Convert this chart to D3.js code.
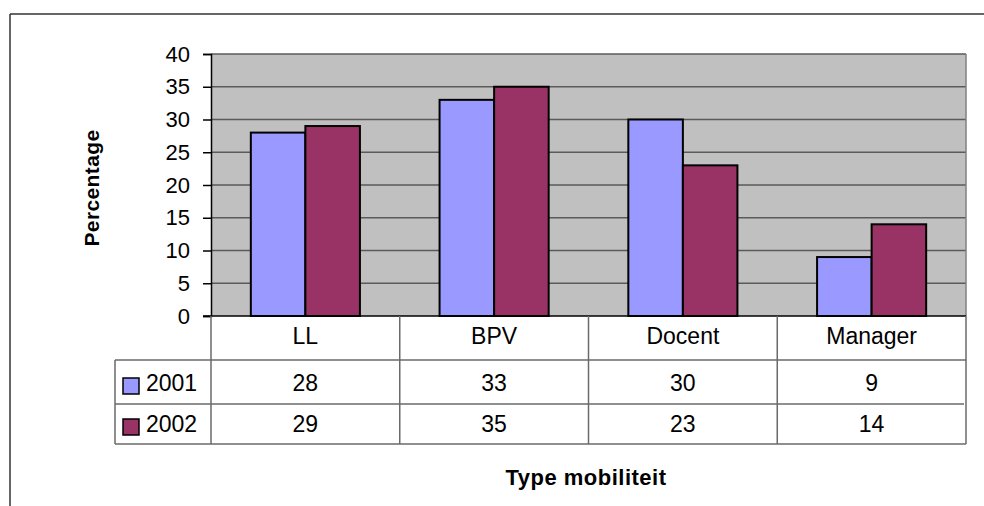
<!DOCTYPE html>
<html><head><meta charset="utf-8">
<script src="https://cdn.jsdelivr.net/npm/d3@7"></script>
<style>body{margin:0;background:#fff}svg{display:block}text{font-family:"Liberation Sans",Arial,sans-serif}</style>
</head><body>
<script>
const categories = ["LL", "BPV", "Docent", "Manager"];
const seriesNames = ["2001", "2002"];
const values2001 = [28, 33, 30, 9];
const values2002 = [29, 35, 23, 14];
const yTicks = [0, 5, 10, 15, 20, 25, 30, 35, 40];
const colors = ["#9999ff", "#993366"];
const series = [values2001, values2002];

const W = 984, H = 506;
const svg = d3.select("body").append("svg").attr("width", W).attr("height", H);

// outer frame (top and left visible)
svg.append("line").attr("x1", 10).attr("x2", 990).attr("y1", 14).attr("y2", 14).attr("stroke", "#333").attr("stroke-width", 1.5);
svg.append("line").attr("x1", 10).attr("x2", 10).attr("y1", 14).attr("y2", 510).attr("stroke", "#333").attr("stroke-width", 1.5);

const L = 211, R = 966, T = 54, B = 316;
const x = d3.scaleBand().domain(categories).range([L, R]).paddingInner(0).paddingOuter(0);
const y = d3.scaleLinear().domain([0, 40]).range([B, T]);

// plot bg
svg.append("rect").attr("x", L).attr("y", T).attr("width", R - L).attr("height", B - T).attr("fill", "#c0c0c0");

// grid
svg.append("g").selectAll("line").data(yTicks.filter(d => d > 0)).join("line")
  .attr("x1", L).attr("x2", R).attr("y1", d => y(d)).attr("y2", d => y(d))
  .attr("stroke", "#5a5a5a").attr("stroke-width", 1.5);
svg.append("line").attr("x1", R).attr("x2", R).attr("y1", T).attr("y2", B).attr("stroke", "#808080").attr("stroke-width", 1.5);

// y axis
const yAxis = d3.axisLeft(y).tickValues(yTicks).tickSize(8).tickPadding(13);
const ga = svg.append("g").attr("transform", `translate(${L},0)`).call(yAxis);
ga.select(".domain").attr("stroke", "#000").attr("stroke-width", 1.5);
ga.selectAll(".tick line").attr("stroke", "#000").attr("stroke-width", 1.5);
ga.selectAll(".tick text").attr("font-size", 22).attr("fill", "#000").attr("font-family", '"Liberation Sans",Arial,sans-serif');

// bars
const bw = x.bandwidth() * 0.289;
series.forEach((vals, si) => {
  svg.append("g").selectAll("rect").data(categories).join("rect")
    .attr("x", c => x(c) + x.bandwidth() / 2 - bw + si * bw)
    .attr("y", (c, i) => y(vals[i]))
    .attr("width", bw)
    .attr("height", (c, i) => y(0) - y(vals[i]))
    .attr("fill", colors[si]).attr("stroke", "#000").attr("stroke-width", 2);
});

svg.append("line").attr("x1", L - 8).attr("x2", R).attr("y1", B).attr("y2", B).attr("stroke", "#000").attr("stroke-width", 1.5);

// data table
const tableLeft = 115, row1 = 360, row2 = 404, tableBottom = 444;
const tc = "#6a6a6a";
const tg = svg.append("g").attr("stroke", tc).attr("stroke-width", 1.5);
tg.append("line").attr("x1", tableLeft).attr("x2", R).attr("y1", row1).attr("y2", row1);
tg.append("line").attr("x1", tableLeft).attr("x2", R - 2).attr("y1", row2).attr("y2", row2);
tg.append("line").attr("x1", tableLeft).attr("x2", R).attr("y1", tableBottom).attr("y2", tableBottom);
tg.append("line").attr("x1", tableLeft).attr("x2", tableLeft).attr("y1", row1).attr("y2", tableBottom);
tg.selectAll("line.v").data(categories.concat(["end"])).join("line").attr("class", "v")
  .attr("x1", (c, i) => i < categories.length ? x(c) : R)
  .attr("x2", (c, i) => i < categories.length ? x(c) : R)
  .attr("y1", B).attr("y2", tableBottom);

svg.append("g").selectAll("text").data(categories).join("text")
  .attr("x", c => x(c) + x.bandwidth() / 2).attr("y", 344)
  .attr("text-anchor", "middle").attr("font-size", 23).text(c => c);

const rowBase = [391, 432];
series.forEach((vals, si) => {
  svg.append("g").selectAll("text").data(categories).join("text")
    .attr("x", c => x(c) + x.bandwidth() / 2).attr("y", rowBase[si])
    .attr("text-anchor", "middle").attr("font-size", 23).text((c, i) => vals[i]);
  svg.append("rect").attr("x", 123).attr("y", rowBase[si] - 13).attr("width", 16).attr("height", 16)
    .attr("fill", colors[si]).attr("stroke", "#000").attr("stroke-width", 1.5);
  svg.append("text").attr("x", 146).attr("y", rowBase[si]).attr("font-size", 23).text(seriesNames[si]);
});

// titles
svg.append("text").attr("transform", "translate(99,188) rotate(-90)").attr("text-anchor", "middle")
  .attr("font-size", 21).attr("font-weight", "bold").attr("letter-spacing", 0.4).text("Percentage");
svg.append("text").attr("x", 586).attr("y", 485).attr("text-anchor", "middle")
  .attr("font-size", 22).attr("font-weight", "bold").attr("letter-spacing", 0.5).text("Type mobiliteit");
</script>
</body></html>
